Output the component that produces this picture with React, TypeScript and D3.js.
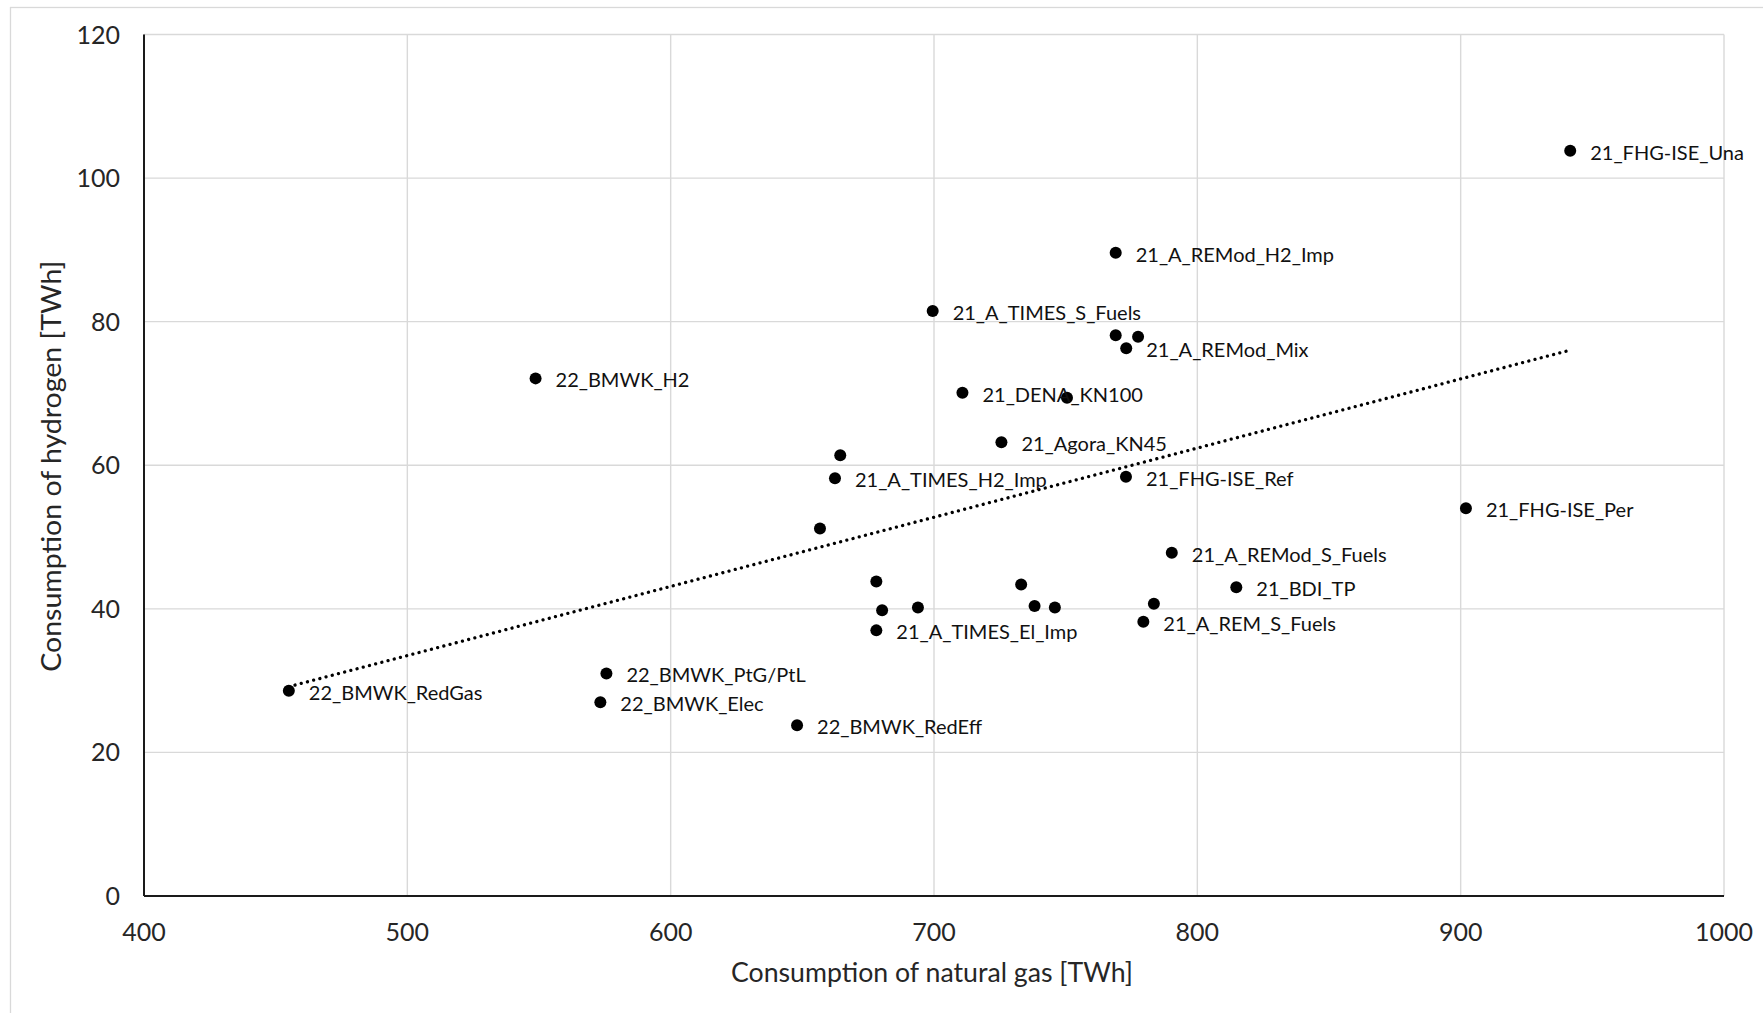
import React from "react";
import * as d3 from "d3";

const scenarioNames = [
  "22_BMWK_RedGas", "22_BMWK_H2", "22_BMWK_PtG/PtL", "22_BMWK_Elec", "22_BMWK_RedEff",
  "", "21_A_TIMES_H2_Imp", "", "", "", "21_A_TIMES_El_Imp", "",
  "21_A_TIMES_S_Fuels", "21_DENA_KN100", "", "21_Agora_KN45", "", "", "",
  "21_A_REMod_H2_Imp", "", "21_A_REMod_Mix", "", "21_FHG-ISE_Ref",
  "21_A_REMod_S_Fuels", "", "21_A_REM_S_Fuels", "21_BDI_TP", "21_FHG-ISE_Per", "21_FHG-ISE_Una",
];
const gasValues = [
  455.0, 548.7, 575.6, 573.3, 648.0,
  656.7, 662.4, 664.4, 678.1, 680.3, 678.1, 693.9,
  699.5, 710.8, 750.5, 725.6, 733.1, 738.2, 745.9,
  769.0, 769.0, 773.0, 777.5, 772.9,
  790.3, 783.5, 779.5, 814.8, 902.0, 941.6,
];
const hydrogenValues = [
  28.6, 72.1, 31.0, 27.0, 23.8,
  51.2, 58.2, 61.4, 43.8, 39.8, 37.0, 40.2,
  81.5, 70.1, 69.4, 63.2, 43.4, 40.4, 40.2,
  89.6, 78.1, 76.3, 77.9, 58.4,
  47.8, 40.7, 38.2, 43.0, 54.0, 103.8,
];
const xTickValues = [400, 500, 600, 700, 800, 900, 1000];
const yTickValues = [0, 20, 40, 60, 80, 100, 120];
const xTitle = "Consumption of natural gas [TWh]";
const yTitle = "Consumption of hydrogen [TWh]";

const W = 1763;
const H = 1013;
const M = { left: 144, right: 1724, top: 34.5, bottom: 896 };
const FONT = "Lato, 'Open Sans', sans-serif";
const TEXT = "#262626";
const GRID = "#d9d9d9";

export default function App() {
  const x = d3.scaleLinear().domain([400, 1000]).range([M.left, M.right]);
  const y = d3.scaleLinear().domain([0, 120]).range([M.bottom, M.top]);

  const points = gasValues.map((g, i) => ({ gx: g, hy: hydrogenValues[i], name: scenarioNames[i] }));

  // linear least-squares trendline
  const mx = d3.mean(gasValues) as number;
  const my = d3.mean(hydrogenValues) as number;
  let sxy = 0;
  let sxx = 0;
  gasValues.forEach((g, i) => {
    sxy += (g - mx) * (hydrogenValues[i] - my);
    sxx += (g - mx) * (g - mx);
  });
  const slope = sxy / sxx;
  const icpt = my - slope * mx;
  const [minX, maxX] = d3.extent(gasValues) as [number, number];
  const trend = [minX, maxX].map((v) => [v, icpt + slope * v] as [number, number]);
  const lineGen = d3.line<[number, number]>().x((d) => x(d[0])).y((d) => y(d[1]));

  return (
    <svg
      width={W}
      height={H}
      style={{ position: "absolute", left: 0, top: 0, background: "#fff" }}
      fontFamily={FONT}
    >
      <rect x={0} y={0} width={W} height={H} fill="#fff" />
      <rect x={10.5} y={7.5} width={W + 50} height={H + 50} fill="none" stroke={GRID} strokeWidth={1.3} />

      {/* gridlines */}
      {xTickValues.map((t) => (
        <line key={"gx" + t} x1={x(t)} x2={x(t)} y1={y(120)} y2={y(0)} stroke={GRID} strokeWidth={1.4} />
      ))}
      {yTickValues.map((t) => (
        <line key={"gy" + t} x1={x(400)} x2={x(1000)} y1={y(t)} y2={y(t)} stroke={GRID} strokeWidth={1.4} />
      ))}

      {/* axes */}
      <line x1={x(400)} x2={x(400)} y1={y(120)} y2={y(0)} stroke="#1a1a1a" strokeWidth={2} />
      <line x1={x(400)} x2={x(1000)} y1={y(0)} y2={y(0)} stroke="#1a1a1a" strokeWidth={2} />

      {/* tick labels */}
      {yTickValues.map((t) => (
        <text key={"ty" + t} x={120} y={y(t) + 9} textAnchor="end" fontSize={25} fill={TEXT}>
          {t}
        </text>
      ))}
      {xTickValues.map((t) => (
        <text key={"tx" + t} x={x(t)} y={941} textAnchor="middle" fontSize={25} fill={TEXT}>
          {t}
        </text>
      ))}

      {/* axis titles */}
      <text
        x={(M.left + M.right) / 2 - 2}
        y={982}
        textAnchor="middle"
        fontSize={27}
        fill={TEXT}
        textLength={402}
        lengthAdjust="spacingAndGlyphs"
      >
        {xTitle}
      </text>
      <text
        transform={`translate(61, ${(M.top + M.bottom) / 2 + 1}) rotate(-90)`}
        textAnchor="middle"
        fontSize={27}
        fill={TEXT}
        textLength={411}
        lengthAdjust="spacingAndGlyphs"
      >
        {yTitle}
      </text>

      {/* trendline */}
      <path
        d={lineGen(trend) || ""}
        fill="none"
        stroke="#000"
        strokeWidth={3.3}
        strokeDasharray="0.01 6.4"
        strokeLinecap="round"
      />

      {/* points */}
      {points.map((p, i) => (
        <circle key={"p" + i} cx={x(p.gx)} cy={y(p.hy)} r={6} fill="#000" />
      ))}

      {/* labels */}
      {points.map((p, i) =>
        p.name ? (
          <text key={"l" + i} x={x(p.gx) + 20} y={y(p.hy) + 9} fontSize={20} fill="#111">
            {p.name}
          </text>
        ) : null
      )}
    </svg>
  );
}
